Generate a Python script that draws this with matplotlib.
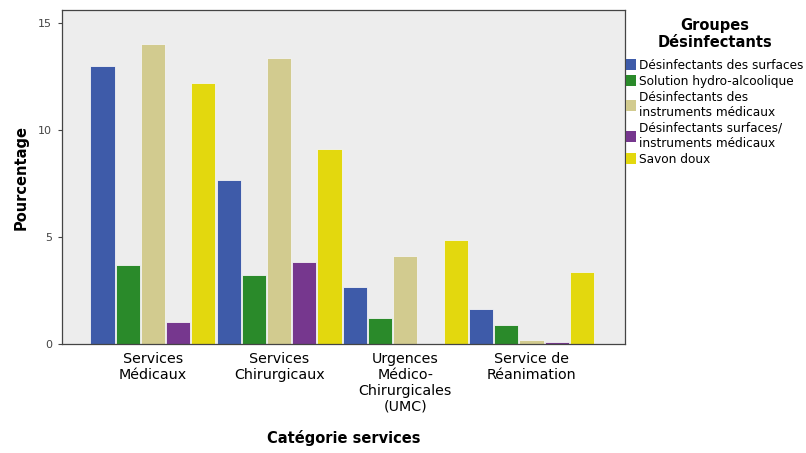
import numpy as np
import matplotlib
matplotlib.use("Agg")
import matplotlib.pyplot as plt
from matplotlib.patches import Patch

categories = ["Services\nMédicaux", "Services\nChirurgicaux",
              "Urgences\nMédico-\nChirurgicales\n(UMC)", "Service de\nRéanimation"]
groups = ["Désinfectants des surfaces", "Solution hydro-alcoolique",
          "Désinfectants des\ninstruments médicaux",
          "Désinfectants surfaces/\ninstruments médicaux", "Savon doux"]

surfaces = [13.0, 7.66, 2.66, 1.65]
hydro = [3.68, 3.21, 1.2, 0.9]
instruments = [14.0, 13.35, 4.1, 0.17]
surf_instr = [1.03, 3.82, 0.0, 0.08]
savon = [12.18, 9.13, 4.86, 3.38]

colors = ["#3e5ba9", "#2a8a2a", "#d2cb8f", "#76378e", "#e3d80e"]

plt.rcParams['font.family'] = ['DejaVu Sans']

fig = plt.figure(figsize=(8.06, 4.53), dpi=100)
ax = fig.add_axes([62/806, 1 - 344/453, (625-62)/806, (344-10)/453])
ax.set_facecolor("#ededed")

series = [surfaces, hydro, instruments, surf_instr, savon]
x = np.arange(len(categories))
w = 0.2
for i, vals in enumerate(series):
    ax.bar(x + (i - 2) * w, vals, width=w * 0.96, color=colors[i],
           edgecolor="#f4f4f4", linewidth=0.6, zorder=2)

ax.set_xlim(-0.72, 3.74)
ax.set_ylim(0, 15.6)
ax.set_yticks([0, 5, 10, 15])
ax.set_xticks(x)
ax.set_xticklabels(categories, fontsize=10.3, linespacing=1.15)
ax.tick_params(axis='x', length=0, pad=6)
ax.tick_params(axis='y', length=3, labelsize=8, colors="#444444", pad=4)
for s in ax.spines.values():
    s.set_color("#444444")
    s.set_linewidth(0.9)

ax.set_xlabel("Catégorie services", fontsize=10.5, fontweight='bold', labelpad=12)
ax.set_ylabel("Pourcentage", fontsize=10.5, fontweight='bold', labelpad=7)

handles = [Patch(facecolor=c, edgecolor="none") for c in colors]
leg = fig.legend(handles, groups, loc="upper left", bbox_to_anchor=(626/806, 1 - 18/453),
                 frameon=False, fontsize=8.7, title="Groupes\nDésinfectants",
                 title_fontproperties={'weight': 'bold', 'size': 10.5},
                 handlelength=0.8, handleheight=1.0, handletextpad=0.25,
                 labelspacing=0.25, borderaxespad=0, borderpad=0, alignment="center")
leg.get_title().set_multialignment("center")
leg.get_title().set_linespacing(1.15)
leg._legend_box.sep = 6.5

fig.savefig("out.png", dpi=100, facecolor="white")
